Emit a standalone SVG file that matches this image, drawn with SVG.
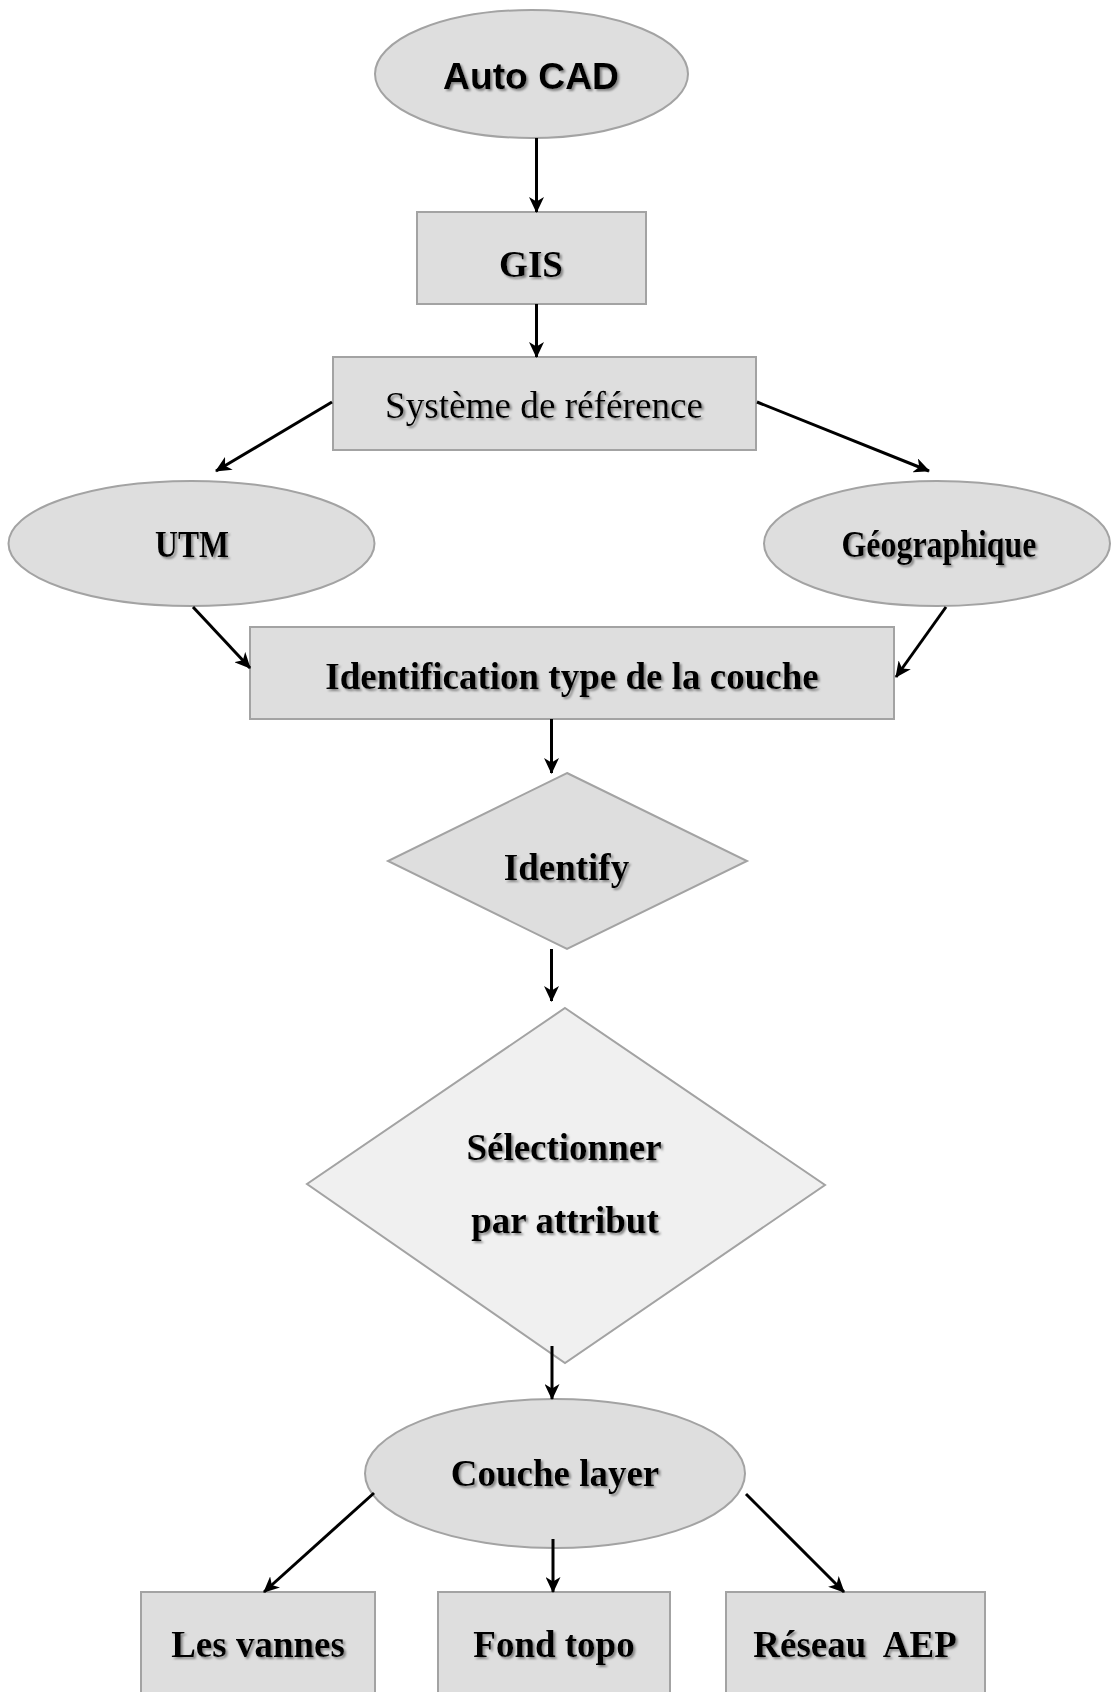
<svg xmlns="http://www.w3.org/2000/svg" width="1111" height="1692" viewBox="0 0 1111 1692">
<defs>
<style>
.shape{fill:#dedede;stroke:#a3a3a3;stroke-width:2}
.light{fill:#f0f0f0}
.lbl{font-family:"Liberation Serif","Times New Roman",serif;font-weight:bold;font-size:37px;fill:#000;text-anchor:middle;filter:url(#sh)}
.sans{font-family:"Liberation Sans",Arial,sans-serif;font-weight:bold}
.reg{font-weight:normal}
.conn line{stroke:#000;stroke-width:3;marker-end:url(#ah)}
</style>
<filter id="sh" x="-10%" y="-30%" width="130%" height="170%">
<feDropShadow dx="2" dy="2" stdDeviation="1.3" flood-color="#7a7a7a" flood-opacity="0.9"/>
</filter>
<marker id="ah" viewBox="0 0 16 15" refX="15" refY="7.5" markerWidth="16" markerHeight="15" markerUnits="userSpaceOnUse" orient="auto">
<path d="M0,0 L16,7.5 L0,15 L4.5,7.5 z" fill="#000"/>
</marker>
</defs>
<rect width="1111" height="1692" fill="#fff"/>

<g id="autocad">
<ellipse class="shape" cx="531.5" cy="74" rx="156.5" ry="64"/>
<text class="lbl sans" x="531" y="89" font-size="35" textLength="176" lengthAdjust="spacingAndGlyphs">Auto CAD</text>
</g>
<g id="gis">
<rect class="shape" x="417" y="212" width="229" height="92"/>
<text class="lbl" x="531" y="277" font-size="36">GIS</text>
</g>
<g id="systeme">
<rect class="shape" x="333" y="357" width="423" height="93"/>
<text class="lbl reg" x="544" y="418" font-size="35" textLength="318" lengthAdjust="spacingAndGlyphs">Système de référence</text>
</g>
<g id="utm">
<ellipse class="shape" cx="191.5" cy="543.5" rx="183" ry="62.5"/>
<text class="lbl" x="192" y="557" font-size="30" textLength="74" lengthAdjust="spacingAndGlyphs">UTM</text>
</g>
<g id="geographique">
<ellipse class="shape" cx="937" cy="543.5" rx="173" ry="62.5"/>
<text class="lbl" x="939" y="557" font-size="30" textLength="195" lengthAdjust="spacingAndGlyphs">Géographique</text>
</g>
<g id="identification">
<rect class="shape" x="250" y="627" width="644" height="92"/>
<text class="lbl" x="572" y="689">Identification type de la couche</text>
</g>
<g id="identify">
<polygon class="shape" points="567,773 747,861 567,949 388,861"/>
<text class="lbl" x="566.5" y="880" font-size="36">Identify</text>
</g>
<g id="selectionner">
<polygon class="shape light" points="565,1008 825,1185 565,1363 307,1184"/>
<text class="lbl" x="564" y="1160">Sélectionner</text>
<text class="lbl" x="565" y="1233">par attribut</text>
</g>
<g id="couche">
<ellipse class="shape" cx="555" cy="1473.5" rx="190" ry="74.5"/>
<text class="lbl" x="555" y="1486">Couche layer</text>
</g>
<g id="vannes">
<rect class="shape" x="141" y="1592" width="234" height="120"/>
<text class="lbl" x="258" y="1657">Les vannes</text>
</g>
<g id="fondtopo">
<rect class="shape" x="438" y="1592" width="232" height="120"/>
<text class="lbl" x="554" y="1657">Fond topo</text>
</g>
<g id="reseau">
<rect class="shape" x="726" y="1592" width="259" height="120"/>
<text class="lbl" x="855" y="1657" xml:space="preserve">Réseau  AEP</text>
</g>

<g id="connectors" class="conn">
<line x1="536.5" y1="138" x2="536.5" y2="212"/>
<line x1="536.5" y1="304" x2="536.5" y2="357"/>
<line x1="332" y1="402" x2="216" y2="471"/>
<line x1="757" y1="402" x2="929" y2="471"/>
<line x1="193" y1="607" x2="250" y2="668"/>
<line x1="946" y1="607" x2="896" y2="677"/>
<line x1="551.5" y1="719" x2="551.5" y2="773"/>
<line x1="551.5" y1="949" x2="551.5" y2="1001"/>
<line x1="552" y1="1346" x2="552" y2="1399"/>
<line x1="374" y1="1493" x2="264" y2="1592"/>
<line x1="553" y1="1539" x2="553" y2="1592"/>
<line x1="746" y1="1494" x2="844" y2="1592"/>
</g>
</svg>
